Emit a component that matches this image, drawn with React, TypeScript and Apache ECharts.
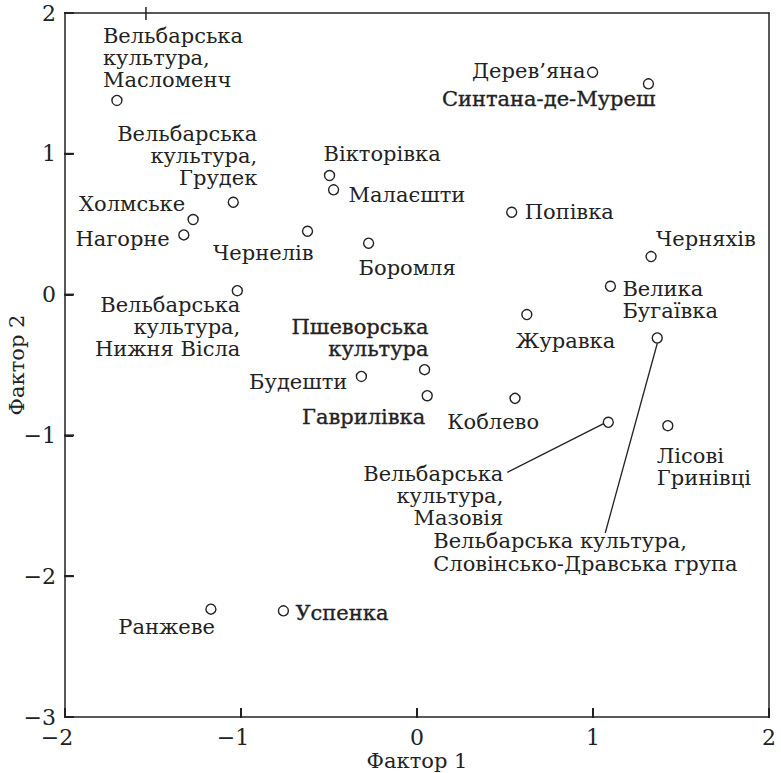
import React, { useEffect, useRef } from "react";
import * as echarts from "echarts";

const names = [
  "Вельбарська\nкультура,\nМасломенч",
  "Дерев’яна",
  "Синтана-де-Муреш",
  "Вельбарська\nкультура,\nГрудек",
  "Вікторівка",
  "Малаєшти",
  "Холмське",
  "Нагорне",
  "Чернелів",
  "Боромля",
  "Попівка",
  "Черняхів",
  "Велика\nБугаївка",
  "Вельбарська\nкультура,\nНижня Вісла",
  "Журавка",
  "Вельбарська культура,\nСловінсько-Дравська група",
  "Пшеворська\nкультура",
  "Будешти",
  "Гаврилівка",
  "Коблево",
  "Вельбарська\nкультура,\nМазовія",
  "Лісові\nГринівці",
  "Ранжеве",
  "Успенка",
];
const factor1 = [
  -1.705, 0.998, 1.315, -1.044, -0.497, -0.474, -1.272, -1.325, -0.622, -0.275,
  0.538, 1.33, 1.099, -1.021, 0.624, 1.365, 0.043, -0.316, 0.058, 0.557, 1.087,
  1.425, -1.171, -0.759,
];
const factor2 = [
  1.379, 1.579, 1.497, 0.656, 0.846, 0.744, 0.533, 0.424, 0.45, 0.365, 0.585,
  0.27, 0.059, 0.028, -0.142, -0.308, -0.533, -0.581, -0.718, -0.737, -0.907,
  -0.931, -2.234, -2.246,
];
const xTicks = [-2, -1, 0, 1, 2];
const yTicks = [-3, -2, -1, 0, 1, 2];
const topMarkX = -1.54; // stray cross mark on the top frame edge
const xName = "Фактор 1";
const yName = "Фактор 2";

// label placement (pixels, relative to the point)
type Lay = {
  a: "left" | "right";
  v: "top" | "middle" | "bottom";
  dx: number;
  dy: number;
  lh?: number;
  b?: boolean;
  lead?: [number, number, number, number];
};
const labelLayout: Lay[] = [
  { a: "left", v: "bottom", dx: -14, dy: -9 },
  { a: "right", v: "middle", dx: -7, dy: -1 },
  { a: "right", v: "middle", dx: 7, dy: 15, b: true },
  { a: "right", v: "bottom", dx: 24, dy: -13 },
  { a: "left", v: "middle", dx: -6, dy: -21 },
  { a: "left", v: "middle", dx: 15, dy: 5 },
  { a: "right", v: "middle", dx: -8, dy: -16 },
  { a: "right", v: "middle", dx: -14, dy: 4 },
  { a: "right", v: "middle", dx: 6, dy: 22 },
  { a: "left", v: "middle", dx: -10, dy: 25 },
  { a: "left", v: "middle", dx: 13, dy: 0 },
  { a: "left", v: "middle", dx: 5, dy: -18 },
  { a: "left", v: "middle", dx: 12, dy: 14 },
  { a: "right", v: "top", dx: 3, dy: 3 },
  { a: "left", v: "middle", dx: -11, dy: 26 },
  { a: "left", v: "top", dx: -224, dy: 192, lh: 23, lead: [0, 5.5, -52, 195] },
  { a: "right", v: "bottom", dx: 4, dy: -10, b: true },
  { a: "right", v: "middle", dx: -14, dy: 6 },
  { a: "right", v: "middle", dx: -2, dy: 21, b: true },
  { a: "right", v: "middle", dx: 24, dy: 24 },
  { a: "right", v: "top", dx: -105, dy: 41, lead: [-5.2, 1.5, -101, 50] },
  { a: "left", v: "top", dx: -11, dy: 19 },
  { a: "right", v: "middle", dx: 4, dy: 18 },
  { a: "left", v: "middle", dx: 12, dy: 2, b: true },
];

const FONT = "'DejaVu Serif', 'Liberation Serif', serif";
const INK = "#222";
const FS = 21;
const LH = 22;
const TFS = 22;

export default function App() {
  const ref = useRef<HTMLDivElement>(null);
  useEffect(() => {
    if (!ref.current) return;
    const chart = echarts.init(ref.current, undefined, { renderer: "svg" });
    const minus = (v: number) => (v < 0 ? "−" + Math.abs(v) : String(v));
    const frameLine = { show: true, onZero: false, lineStyle: { color: INK, width: 1.5 } };
    const inTick = { show: true, inside: true, length: 8, lineStyle: { color: INK, width: 2 } };
    chart.setOption({
      animation: false,
      backgroundColor: "#fff",
      grid: {
        left: 65,
        top: 13,
        right: 12,
        bottom: 56,
        containLabel: false,
        outerBoundsMode: "none",
        show: false,
      },
      xAxis: [
        {
          type: "value",
          position: "bottom",
          min: -2,
          max: 2,
          interval: 1,
          axisLine: frameLine,
          axisTick: inTick,
          splitLine: { show: false },
          axisLabel: {
            margin: 9,
            fontFamily: FONT,
            fontSize: TFS,
            color: INK,
            formatter: (v: number) => (v < 0 ? "{n|" + minus(v) + "}" : String(v)),
            rich: {
              n: { fontFamily: FONT, fontSize: TFS, color: INK, padding: [0, 16, 0, 0] },
            },
          },
        },
        {
          type: "value",
          position: "top",
          min: -2,
          max: 2,
          interval: 1,
          axisLine: frameLine,
          axisTick: { show: false },
          axisLabel: { show: false },
          splitLine: { show: false },
        },
      ],
      yAxis: [
        {
          type: "value",
          position: "left",
          min: -3,
          max: 2,
          interval: 1,
          axisLine: frameLine,
          axisTick: inTick,
          splitLine: { show: false },
          axisLabel: {
            margin: 9,
            fontFamily: FONT,
            fontSize: TFS,
            color: INK,
            formatter: (v: number) => minus(v),
          },
        },
        {
          type: "value",
          position: "right",
          min: -3,
          max: 2,
          interval: 1,
          axisLine: frameLine,
          axisTick: { show: false },
          axisLabel: { show: false },
          splitLine: { show: false },
        },
      ],
      series: [
        {
          type: "custom",
          xAxisIndex: 0,
          yAxisIndex: 0,
          data: factor1.map((x, i) => [x, factor2[i]]),
          renderItem: (params: any, api: any) => {
            const i = params.dataIndex;
            const p = api.coord([api.value(0), api.value(1)]);
            const L = labelLayout[i];
            const children: any[] = [];
            if (L.lead) {
              children.push({
                type: "line",
                shape: {
                  x1: p[0] + L.lead[0],
                  y1: p[1] + L.lead[1],
                  x2: p[0] + L.lead[2],
                  y2: p[1] + L.lead[3],
                },
                style: { stroke: INK, lineWidth: 1.3 },
              });
            }
            children.push({
              type: "circle",
              shape: { cx: p[0], cy: p[1], r: 5 },
              style: { fill: "#fff", stroke: INK, lineWidth: 1.4 },
            });
            children.push({
              type: "text",
              x: p[0] + L.dx,
              y: p[1] + L.dy,
              style: {
                text: names[i],
                align: L.a,
                verticalAlign: L.v,
                fontFamily: FONT,
                fontSize: FS,
                lineHeight: L.lh || LH,
                fill: INK,
                stroke: L.b ? INK : undefined,
                lineWidth: L.b ? 0.35 : 0,
              },
            });
            return { type: "group", children };
          },
        },
      ],
    });

    // inward ticks, the stray top mark and the axis names, placed via the chart's scales
    const px = (x: number, y: number) =>
      chart.convertToPixel({ xAxisIndex: 0, yAxisIndex: 0 }, [x, y]) as number[];
    const elems: any[] = [];
    xTicks.forEach((t, k) => {
      const p = px(t, -3);
      elems.push({
        type: "rect",
        id: "xt" + k,
        shape: { x: p[0] - 1, y: p[1] - 9, width: 2, height: 10 },
        style: { fill: INK },
        z: 100,
      });
    });
    yTicks.forEach((t, k) => {
      const p = px(-2, t);
      elems.push({
        type: "rect",
        id: "yt" + k,
        shape: { x: p[0] - 1, y: p[1] - 1, width: 10, height: 2 },
        style: { fill: INK },
        z: 100,
      });
    });
    const tm = px(topMarkX, 2);
    elems.push({
      type: "rect",
      id: "tm",
      shape: { x: tm[0] - 0.75, y: tm[1] - 6, width: 1.5, height: 13 },
      style: { fill: INK },
      z: 100,
    });
    const bl = px(-2, -3);
    const br = px(2, -3);
    const tl = px(-2, 2);
    elems.push({
      type: "text",
      id: "xn",
      x: (bl[0] + br[0]) / 2,
      y: bl[1] + 44,
      style: { text: xName, align: "center", verticalAlign: "middle", fontFamily: FONT, fontSize: FS, fill: INK },
      z: 100,
    });
    elems.push({
      type: "text",
      id: "yn",
      x: bl[0] - 48,
      y: (bl[1] + tl[1]) / 2,
      rotation: Math.PI / 2,
      style: { text: yName, align: "center", verticalAlign: "middle", fontFamily: FONT, fontSize: FS, fill: INK },
      z: 100,
    });
    chart.setOption({ graphic: { elements: elems } });
    return () => chart.dispose();
  }, []);
  return (
    <div
      ref={ref}
      style={{ position: "fixed", left: 0, top: 0, width: 781, height: 773 }}
    />
  );
}
